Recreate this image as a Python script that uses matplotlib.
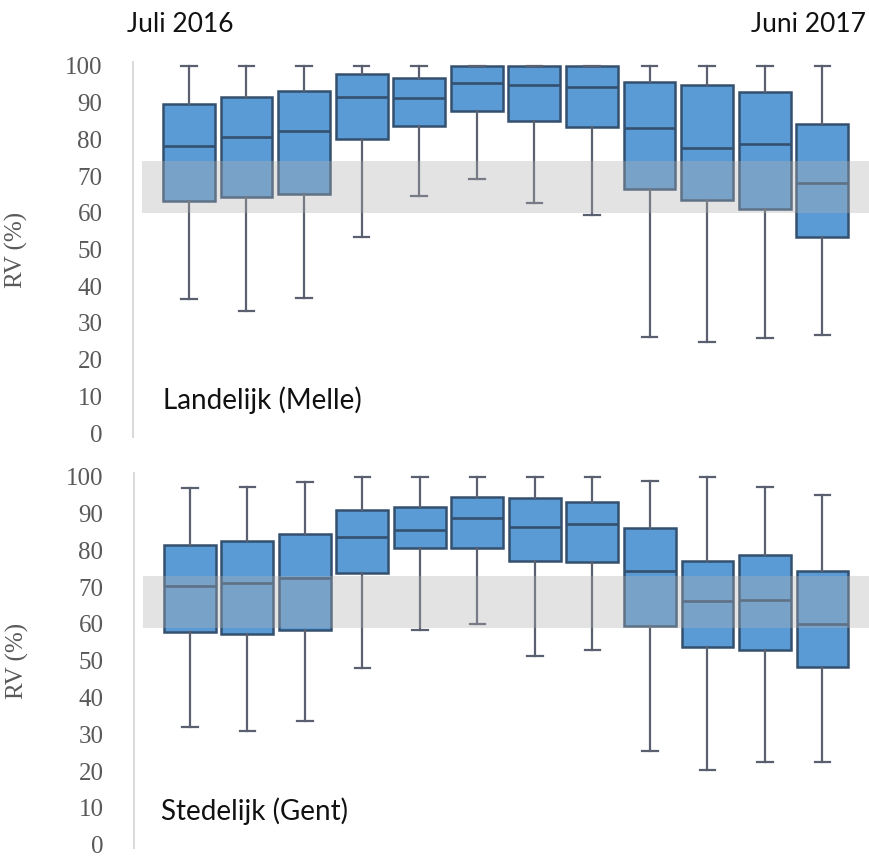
import matplotlib.pyplot as plt

# maanden juli 2016 .. juni 2017
maanden = ["Juli 2016", "Aug", "Sep", "Okt", "Nov", "Dec",
           "Jan", "Feb", "Mrt", "Apr", "Mei", "Juni 2017"]

# Landelijk (Melle): relatieve vochtigheid per maand
melle_min = [36.4, 33.2, 36.7, 53.5, 64.7, 69.2, 62.6, 59.4, 26.2, 24.8, 26.0, 26.6]
melle_q1 = [63.2, 64.4, 65.0, 80.1, 83.7, 87.7, 85.0, 83.5, 66.4, 63.5, 61.0, 53.5]
melle_med = [78.2, 80.7, 82.3, 91.6, 91.2, 95.4, 94.8, 94.4, 83.2, 77.7, 78.7, 68.0]
melle_q3 = [89.6, 91.5, 93.3, 97.8, 96.8, 100, 100, 100, 95.7, 94.7, 93.0, 84.2]
melle_max = [100, 100, 100, 100, 100, 100, 100, 100, 100, 100, 100, 100]

# Stedelijk (Gent)
gent_min = [31.9, 30.8, 33.6, 48.1, 58.4, 60.1, 51.4, 52.9, 25.4, 20.3, 22.6, 22.6]
gent_q1 = [57.7, 57.2, 58.4, 73.7, 80.5, 80.7, 77.1, 76.7, 59.3, 53.8, 52.9, 48.4]
gent_med = [70.2, 71.0, 72.4, 83.5, 85.4, 88.9, 86.2, 87.1, 74.3, 66.3, 66.6, 60.1]
gent_q3 = [81.5, 82.5, 84.3, 91.0, 91.8, 94.4, 94.1, 93.0, 86.1, 77.0, 78.8, 74.3]
gent_max = [96.8, 97.3, 98.5, 100, 100, 100, 100, 100, 98.9, 100, 97.3, 95.1]

# comfortzone (grijze band)
melle_zone = (60, 74)
gent_zone = (59, 73)

BLAUW = "#5B9BD5"
RAND = "#34506F"
SNOR = "#5A6070"
GRIJS = "#595959"

W, H = 869, 857
fig = plt.figure(figsize=(W / 100, H / 100), dpi=100)


def paneel(ypix_top, ypix_bot, xleft, titel, lo, q1, med, q3, hi, zone, tx):
    # ylim -1..101 tussen ypix_top en ypix_bot
    ax = fig.add_axes([xleft / W, 1 - ypix_bot / H, 1 - xleft / W, (ypix_bot - ypix_top) / H])
    stats = []
    for i in range(len(maanden)):
        stats.append(dict(whislo=lo[i], q1=q1[i], med=med[i], q3=q3[i], whishi=hi[i], label=maanden[i]))
    pos = list(range(1, len(maanden) + 1))
    ax.bxp(stats, positions=pos, widths=0.9, capwidths=0.27, showfliers=False, patch_artist=True,
           boxprops=dict(facecolor=BLAUW, edgecolor=RAND, linewidth=1.8),
           medianprops=dict(color=RAND, linewidth=1.9),
           whiskerprops=dict(color=SNOR, linewidth=1.6),
           capprops=dict(color=SNOR, linewidth=1.6))
    ax.axhspan(zone[0], zone[1], xmin=0.012, xmax=1, color="#B0B0B0", alpha=0.35, lw=0, zorder=5)
    ax.set_xlim(0.03, 12.81)
    ax.set_ylim(-1, 101)
    ax.set_yticks(range(0, 101, 10))
    ax.set_xticks([])
    ax.tick_params(axis="y", length=0, pad=22, labelsize=18, labelcolor=GRIJS)
    for lab in ax.get_yticklabels():
        lab.set_family("Liberation Serif")
    for s in ["top", "right", "bottom"]:
        ax.spines[s].set_visible(False)
    ax.spines["left"].set_color("#D9D9D9")
    ax.spines["left"].set_linewidth(1.4)
    ax.set_ylabel("RV (%)", family="Liberation Serif", fontsize=18, color=GRIJS)
    ax.yaxis.set_label_coords(-0.143, 0.5)
    ax.text(tx, 9, titel, family="Lato", fontsize=20, color="#111111", va="center", ha="left")
    ax.set_facecolor("none")
    return ax


paneel(62.3, 436.7, 133, "Landelijk (Melle)",
       melle_min, melle_q1, melle_med, melle_q3, melle_max, melle_zone, 0.55)
paneel(473.0, 848.4, 134, "Stedelijk (Gent)",
       gent_min, gent_q1, gent_med, gent_q3, gent_max, gent_zone, 0.5)

fig.text(127 / W, 1 - 25 / H, maanden[0], family="Lato", fontsize=19, color="#111111",
         ha="left", va="center")
fig.text(866 / W, 1 - 25 / H, maanden[-1], family="Lato", fontsize=19, color="#111111",
         ha="right", va="center")

fig.savefig("out.png", dpi=100)
